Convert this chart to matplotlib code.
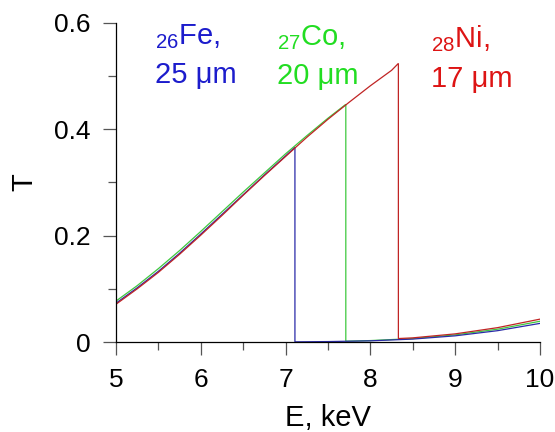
import matplotlib
matplotlib.use("Agg")
import matplotlib.pyplot as plt
from matplotlib.ticker import MultipleLocator

# Transmission of Fe, Co, Ni foils across their K-edges
energy_fe_low = [5.0, 5.25, 5.5, 5.75, 6.0, 6.25, 6.5, 6.75, 7.0, 7.11]
t_fe_low = [0.073, 0.102, 0.133, 0.167, 0.203, 0.240, 0.277, 0.314, 0.350, 0.366]
energy_fe_high = [7.11, 7.5, 8.0, 8.5, 9.0, 9.5, 10.0]
t_fe_high = [0.0003, 0.0008, 0.0022, 0.0055, 0.0116, 0.0213, 0.035]

energy_co_low = [5.0, 5.25, 5.5, 5.75, 6.0, 6.25, 6.5, 6.75, 7.0, 7.25, 7.5, 7.71]
t_co_low = [0.077, 0.106, 0.138, 0.172, 0.208, 0.245, 0.282, 0.318, 0.354, 0.388, 0.421, 0.447]
energy_co_high = [7.71, 8.0, 8.5, 9.0, 9.5, 10.0]
t_co_high = [0.0014, 0.0027, 0.0065, 0.0134, 0.0241, 0.039]

energy_ni_low = [5.0, 5.25, 5.5, 5.75, 6.0, 6.25, 6.5, 6.75, 7.0, 7.25, 7.5, 7.75, 8.0, 8.25, 8.33]
t_ni_low = [0.071, 0.100, 0.131, 0.165, 0.201, 0.238, 0.276, 0.313, 0.349, 0.385, 0.419, 0.451, 0.482, 0.511, 0.524]
energy_ni_high = [8.33, 8.5, 9.0, 9.5, 10.0]
t_ni_high = [0.0065, 0.0078, 0.0153, 0.027, 0.043]

plt.rcParams['font.family'] = ['Liberation Sans', 'DejaVu Sans']
plt.rcParams['mathtext.fontset'] = 'custom'
plt.rcParams['mathtext.rm'] = 'Liberation Sans'
plt.rcParams['mathtext.it'] = 'Liberation Sans'

fig = plt.figure(figsize=(5.55, 4.32), dpi=100)
ax = fig.add_axes([116/555, 90/432, 424/555, 319/432])

c_fe, c_co, c_ni = '#2a2aa8', '#3ec83e', '#c02424'
lw = 0.9

def draw(e_lo, t_lo, e_hi, t_hi, color):
    ax.plot(e_lo + e_hi, t_lo + t_hi, color=color, lw=lw, solid_joinstyle='miter')

draw(energy_co_low, t_co_low, energy_co_high, t_co_high, c_co)
draw(energy_fe_low, t_fe_low, energy_fe_high, t_fe_high, c_fe)
draw(energy_ni_low, t_ni_low, energy_ni_high, t_ni_high, c_ni)

ax.set_xlim(5, 10)
ax.set_ylim(0, 0.6)
for s in ('top', 'right'):
    ax.spines[s].set_visible(False)
for s in ('left', 'bottom'):
    ax.spines[s].set_linewidth(0.9)

ax.xaxis.set_major_locator(MultipleLocator(1))
ax.xaxis.set_minor_locator(MultipleLocator(0.5))
ax.yaxis.set_minor_locator(MultipleLocator(0.1))
ax.set_yticks([0, 0.2, 0.4, 0.6])
ax.set_yticklabels(['0', '0.2', '0.4', '0.6'])

ax.tick_params(which='major', direction='out', length=9.5, width=0.9,
               color='#555555', pad=9, labelsize=19)
ax.tick_params(which='minor', direction='out', length=5.8, width=0.9,
               color='#555555')

ax.set_xlabel('E, keV', fontsize=21, labelpad=9)
ax.set_ylabel('T', fontsize=21, labelpad=11)

def px2data(px, py):
    return 5 + (px - 116) / 84.8, (342 - py) / 531.7

labels = [
    (r'$_{26}$Fe,', '25 μm', 155, 44, 83, '#1c1ccc'),
    (r'$_{27}$Co,', '20 μm', 277, 45, 84, '#22dd22'),
    (r'$_{28}$Ni,', '17 μm', 431, 47, 87, '#dd1414'),
]
for l1, l2, px, py1, py2, col in labels:
    x1, y1 = px2data(px, py1)
    x2, y2 = px2data(px, py2)
    ax.text(x1, y1, l1, color=col, fontsize=21, ha='left', va='baseline')
    ax.text(x2, y2, l2, color=col, fontsize=21, ha='left', va='baseline')

fig.savefig('out.png', dpi=100)
